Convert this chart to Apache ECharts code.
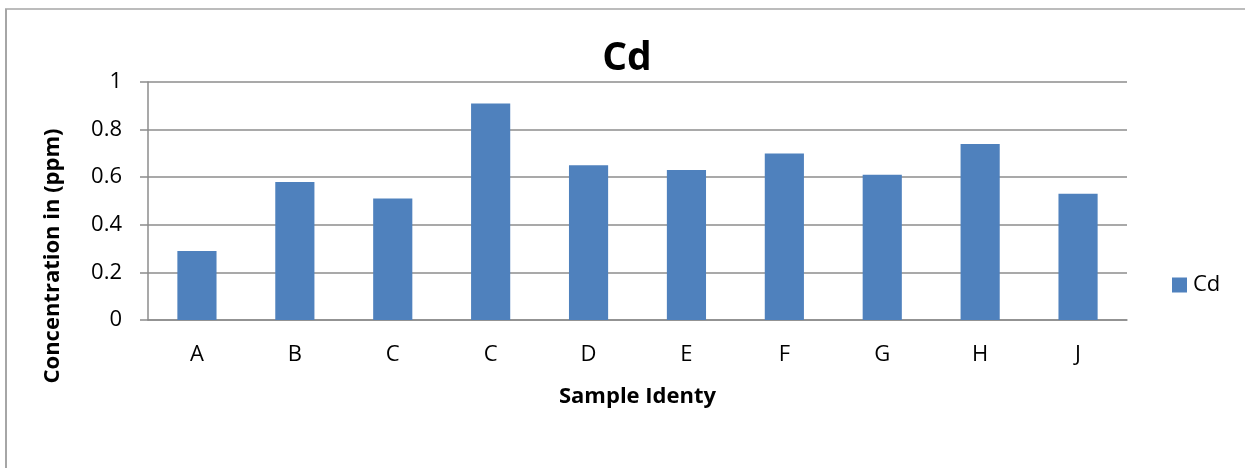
<!DOCTYPE html>
<html><head><meta charset="utf-8">
<script src="https://cdn.jsdelivr.net/npm/echarts@6/dist/echarts.min.js"></script>
<style>html,body{margin:0;padding:0;background:#fff}#c{width:1245px;height:468px}</style>
</head><body><div id="c"></div>
<script>
const categories = ['A','B','C','C','D','E','F','G','H','J'];
const cdValues = [0.29, 0.58, 0.51, 0.91, 0.65, 0.63, 0.70, 0.61, 0.74, 0.53];
const yTicks = {min: 0, max: 1, interval: 0.2};
const titleText = 'Cd';
const seriesName = 'Cd';
const xName = 'Sample Identy';
const yName = 'Concentration in (ppm)';

const FONT = '"Open Sans", "Noto Sans", sans-serif';
const chart = echarts.init(document.getElementById('c'));
chart.setOption({
  animation: false,
  backgroundColor: '#fff',
  title: {
    text: titleText, left: 627, top: 39, textAlign: 'center', padding: 0,
    textStyle: {fontFamily: FONT, fontSize: 39, fontWeight: 'bold', color: '#000'}
  },
  legend: {
    data: [seriesName], left: 1172, top: 274, padding: 0, icon: 'rect', itemWidth: 15, itemHeight: 15, itemGap: 6,
    textStyle: {fontFamily: FONT, fontSize: 22, color: '#000', padding: [0,0,0,1]}
  },
  grid: {left: 148, right: 118, top: 82, bottom: 148, containLabel: false},
  xAxis: {
    type: 'category', data: categories,
    name: xName, nameLocation: 'middle', nameGap: 66,
    nameTextStyle: {fontFamily: FONT, fontSize: 22, fontWeight: 'bold', color: '#000'},
    axisLine: {lineStyle: {color: '#8c8c8c', width: 1.5}},
    axisTick: {show: false},
    axisLabel: {fontFamily: FONT, fontSize: 22, color: '#000', margin: 24}
  },
  yAxis: {
    type: 'value', min: yTicks.min, max: yTicks.max, interval: yTicks.interval,
    axisLine: {show: true, lineStyle: {color: '#8c8c8c', width: 1.5}},
    axisTick: {show: true, length: 8, lineStyle: {color: '#8c8c8c', width: 1.5}},
    splitLine: {lineStyle: {color: '#8c8c8c', width: 1.5}},
    axisLabel: {fontFamily: FONT, fontSize: 22, color: '#000', margin: 26,
      formatter: v => String(Math.round(v * 10) / 10)}
  },
  series: [{
    type: 'bar', name: seriesName, data: cdValues, barWidth: '40%',
    itemStyle: {color: '#4f81bd'}
  }],
  graphic: [
    {type: 'line', shape: {x1: 6, y1: 9, x2: 6, y2: 468}, style: {stroke: '#a6a6a6', lineWidth: 2}, silent: true},
    {type: 'line', shape: {x1: 5, y1: 9, x2: 1245, y2: 9}, style: {stroke: '#a6a6a6', lineWidth: 1.5}, silent: true},
    {type: 'text', x: 53, y: 256, rotation: Math.PI / 2, silent: true,
      style: {text: yName, align: 'center', verticalAlign: 'middle', fill: '#000',
        font: 'bold 22px "Open Sans", "Noto Sans", sans-serif'}}
  ]
});
</script></body></html>
